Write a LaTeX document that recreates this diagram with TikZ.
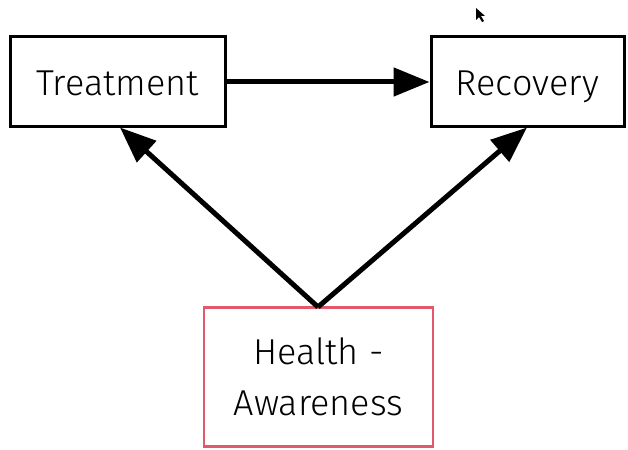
\documentclass[tikz,border=0pt]{standalone}
\usepackage{fontspec}
\setmainfont{Fira Sans}[UprightFont=* Light]
\usetikzlibrary{arrows.meta}
\definecolor{hred}{HTML}{E2596B}
\begin{document}
\begin{tikzpicture}[x=1pt,y=-1pt,
  box/.style={draw=black,line width=3pt,inner sep=0pt,text height=27pt,text depth=0pt,font=\fontsize{36}{48}\selectfont},
  hbox/.style={draw=hred,line width=2.2pt,inner sep=0pt,align=center,font=\fontsize{36}{51}\selectfont},
  conn/.style={line width=5pt,-{Triangle[length=36pt,width=28pt]}}]
\useasboundingbox (0,0) rectangle (628,449);
\node[box,minimum width=215pt,minimum height=90pt] (t) at (117.5,82) {Treatment};
\node[box,minimum width=193pt,minimum height=90pt] (r) at (527.5,82) {Recovery};
\node[hbox,minimum width=229pt,minimum height=139pt] (h) at (318.5,377) {Health -\\Awareness};
\draw[conn] (t.east) -- (r.west);
\coordinate (hs) at (318,307);
\draw[conn] (hs) -- (120,127.5);
\draw[conn] (hs) -- (527,127.5);
\fill[black] (476,8) -- (476,20) -- (479,17) -- (482,22) -- (484,21) -- (481,16) -- (485,16) -- cycle;
\end{tikzpicture}
\end{document}
